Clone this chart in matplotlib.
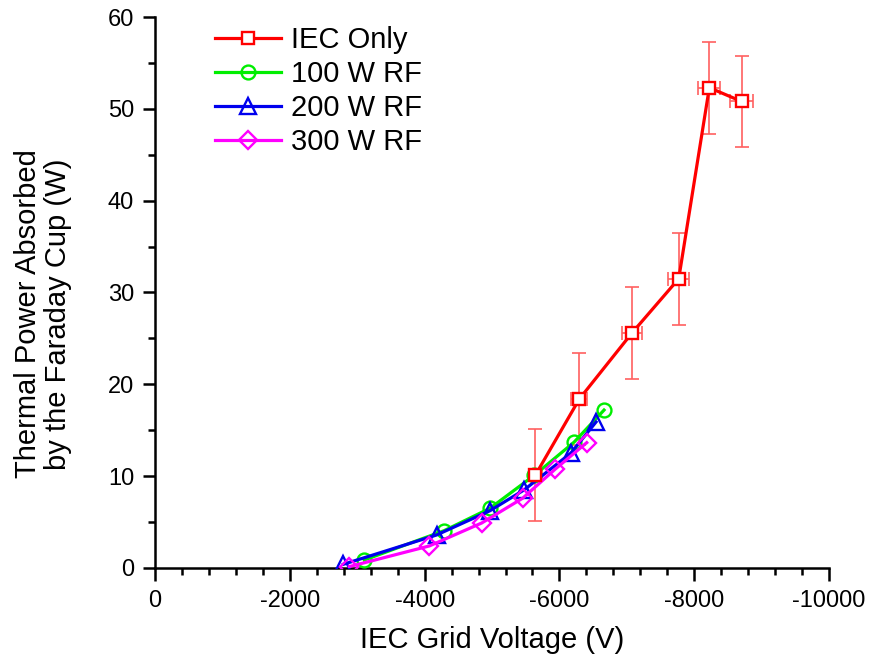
import numpy as np
import matplotlib.pyplot as plt
from matplotlib.ticker import MultipleLocator

plt.rcParams['font.family'] = ['Liberation Sans', 'DejaVu Sans']
plt.rcParams['axes.unicode_minus'] = False

# IEC only, with error bars
iec_v = [-5642, -6295, -7077, -7770, -8224, -8705]
iec_p = [10.1, 18.4, 25.6, 31.5, 52.3, 50.8]
iec_verr = [95, 121, 150, 155, 163, 168]
iec_perr = [5, 5, 5, 5, 5, 5]

rf100_v = [-3105, -4288, -4970, -5628, -6217, -6662]
rf100_p = [0.87, 4.06, 6.5, 10.1, 13.7, 17.2]

rf200_v = [-2794, -4179, -4970, -5475, -6168, -6543]
rf200_p = [0.4, 3.6, 6.24, 8.5, 12.5, 15.9]

rf300_v = [-2883, -4070, -4847, -5455, -5935, -6405]
rf300_p = [0.15, 2.4, 4.9, 7.6, 10.75, 13.65]

fig = plt.figure(figsize=(8.69, 6.59), dpi=100)
ax = fig.add_axes([0.1784, 0.1381, 0.7756, 0.8361])

ax.errorbar(iec_v, iec_p, xerr=iec_verr, yerr=iec_perr, fmt='none',
            ecolor='#ff6060', elinewidth=1.2, capsize=5, capthick=1.2, zorder=2)
ax.plot(iec_v, iec_p, color='#ff0000', lw=2.3, marker='s', ms=9,
        mfc='white', mec='#ff0000', mew=1.7, label='IEC Only', zorder=5)
ax.plot(rf100_v, rf100_p, color='#00ee00', lw=2.3, marker='o', ms=10,
        mfc='none', mec='#00ee00', mew=1.7, label='100 W RF', zorder=3)
ax.plot(rf200_v, rf200_p, color='#0000ee', lw=2.3, marker='^', ms=11,
        mfc='none', mec='#0000ee', mew=1.7, label='200 W RF', zorder=4)
ax.plot(rf300_v, rf300_p, color='#ff00ff', lw=2.3, marker='D', ms=9,
        mfc='none', mec='#ff00ff', mew=1.7, label='300 W RF', zorder=4)

ax.set_xlim(0, -10000)
ax.set_ylim(0, 60)
ax.xaxis.set_major_locator(MultipleLocator(2000))
ax.xaxis.set_minor_locator(MultipleLocator(400))
ax.yaxis.set_major_locator(MultipleLocator(10))
ax.yaxis.set_minor_locator(MultipleLocator(5))

for s in ['top', 'right']:
    ax.spines[s].set_visible(False)
for s in ['left', 'bottom']:
    ax.spines[s].set_linewidth(1.8)

ax.tick_params(which='major', direction='out', length=9, width=1.8, labelsize=17)
ax.tick_params(which='minor', direction='out', length=5, width=1.8)
ax.tick_params(axis='x', pad=7)
ax.tick_params(axis='y', pad=6)

ax.set_xlabel('IEC Grid Voltage (V)', fontsize=21, labelpad=10)
ax.set_ylabel('Thermal Power Absorbed\nby the Faraday Cup (W)', fontsize=21,
              linespacing=1.1)
ax.yaxis.set_label_coords(-0.123, 0.461)

ax.legend(loc='upper left', bbox_to_anchor=(0.089, 0.983), frameon=False,
          fontsize=21, handlelength=2.25, handletextpad=0.35, labelspacing=0.2,
          borderpad=0, borderaxespad=0)

fig.savefig('out.png', dpi=100)
